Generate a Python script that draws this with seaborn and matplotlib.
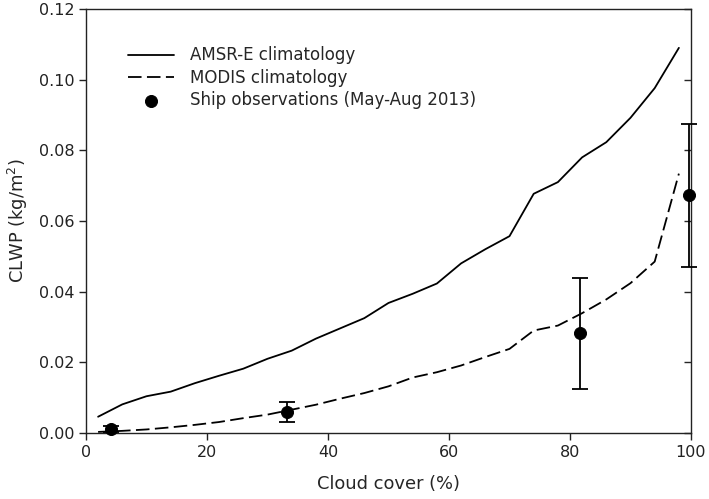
import matplotlib
matplotlib.use("Agg")
import matplotlib.pyplot as plt
import numpy as np
import pandas as pd
import seaborn as sns

# climatology curves (cloud cover %, CLWP kg/m2)
cover = [2, 6, 10, 14, 18, 22, 26, 30, 34, 38, 42, 46, 50,
         54, 58, 62, 66, 70, 74, 78, 82, 86, 90, 94, 98]
amsre = [0.0046, 0.0081, 0.0104, 0.0117, 0.0141, 0.0162, 0.0182, 0.0210, 0.0233,
         0.0267, 0.0296, 0.0325, 0.0368, 0.0394, 0.0423, 0.0480, 0.0520, 0.0557,
         0.0677, 0.0710, 0.0780, 0.0823, 0.0892, 0.0976, 0.1090]
modis = [0.0003, 0.0006, 0.0010, 0.0016, 0.0023, 0.0031, 0.0042, 0.0052, 0.0066,
         0.0080, 0.0097, 0.0113, 0.0132, 0.0157, 0.0172, 0.0191, 0.0215, 0.0238,
         0.0290, 0.0304, 0.0339, 0.0378, 0.0424, 0.0485, 0.0734]

# ship observations
ship_x = [4.1, 33.2, 81.7, 99.6]
ship_y = [0.0011, 0.0060, 0.0282, 0.0673]
ship_lo = [0.0003, 0.0032, 0.0124, 0.0471]
ship_hi = [0.0020, 0.0089, 0.0440, 0.0874]

sns.set_style("ticks")
plt.rcParams['font.family'] = ['DejaVu Sans']

clim = pd.DataFrame({'cover': cover, 'amsre': amsre, 'modis': modis})
ship = pd.DataFrame({'x': ship_x, 'y': ship_y})

fig = plt.figure(figsize=(7.09, 4.99), dpi=100)
ax = fig.add_axes([0.1213, 0.1323, 0.8533, 0.8497])

sns.lineplot(data=clim, x='cover', y='amsre', ax=ax, color='black', lw=1.3,
             label='AMSR-E climatology')
sns.lineplot(data=clim, x='cover', y='modis', ax=ax, color='black', lw=1.3,
             dashes=False, label='MODIS climatology')
ax.lines[-1].set_dashes((7.5, 3.0))

yerr = [np.array(ship_y) - np.array(ship_lo), np.array(ship_hi) - np.array(ship_y)]
eb = ax.errorbar(ship_x, ship_y, yerr=yerr, fmt='none', ecolor='black', elinewidth=1.3,
                 capsize=5.5, capthick=1.3, zorder=3)
for art in eb.lines[1] + eb.lines[2]:
    art.set_clip_on(False)
sns.scatterplot(data=ship, x='x', y='y', ax=ax, color='black', s=75, edgecolor='black',
                zorder=4, clip_on=False, label='Ship observations (May-Aug 2013)')

ax.set_xlim(0, 100)
ax.set_ylim(0, 0.12)
ax.set_xticks([0, 20, 40, 60, 80, 100])
ax.set_yticks(np.arange(0, 0.121, 0.02))
ax.yaxis.set_major_formatter(matplotlib.ticker.FormatStrFormatter('%.2f'))
ax.tick_params(axis='both', direction='out', length=5, width=1, labelsize=11.5,
               colors='#222222')
sec = ax.secondary_yaxis('right')
sec.set_yticks(np.arange(0, 0.121, 0.02))
sec.tick_params(direction='in', length=5, width=1, labelright=False)
sec.spines['right'].set_visible(False)
for s in ax.spines.values():
    s.set_linewidth(1.0)
    s.set_color('#222222')

ax.set_xlabel('Cloud cover (%)', fontsize=12.9, labelpad=11)
ax.set_ylabel('CLWP (kg/m$^2$)', fontsize=12.9, labelpad=6)

leg = ax.legend(loc='upper left', bbox_to_anchor=(0.045, 0.947), frameon=False,
                fontsize=12, handlelength=2.75, handletextpad=0.97, labelspacing=0.26)

fig.savefig('out.png', dpi=100)
